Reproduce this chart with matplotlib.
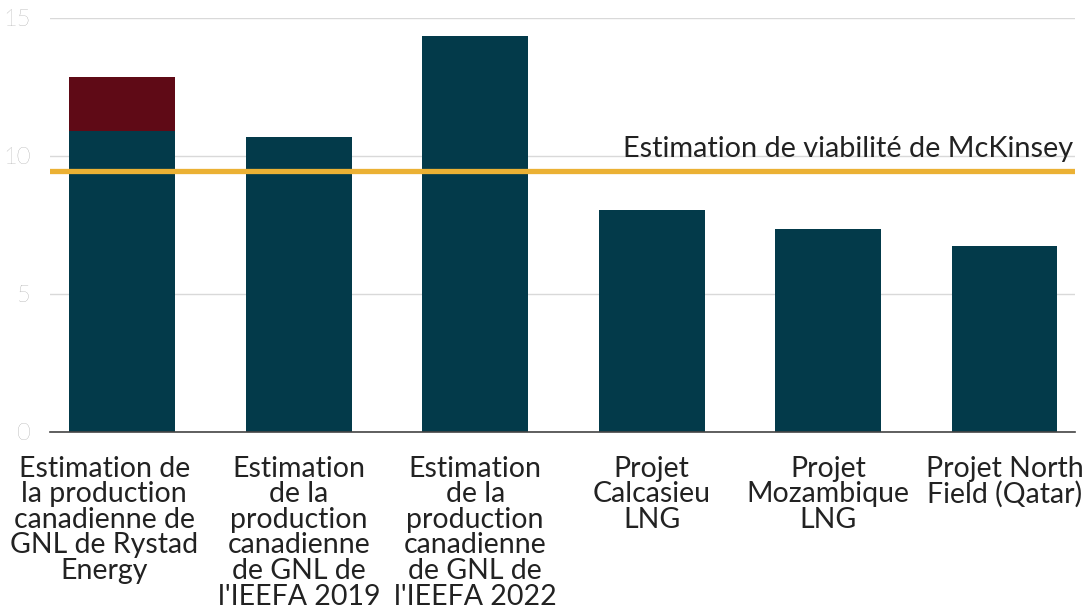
import matplotlib.pyplot as plt
import matplotlib.transforms as mtransforms

plt.rcParams["font.family"] = ["Lato", "DejaVu Sans"]

categories = [
    "Estimation de\nla production\ncanadienne de\nGNL de Rystad\nEnergy",
    "Estimation\nde la\nproduction\ncanadienne\nde GNL de\nl'IEEFA 2019",
    "Estimation\nde la\nproduction\ncanadienne\nde GNL de\nl'IEEFA 2022",
    "Projet\nCalcasieu\nLNG",
    "Projet\nMozambique\nLNG",
    "Projet North\nField (Qatar)",
]
base_values = [10.9, 10.7, 14.35, 8.05, 7.37, 6.75]
extra_values = [1.95, 0, 0, 0, 0, 0]
mckinsey = 9.45
mckinsey_label = "Estimation de viabilité de McKinsey"

BLUE = "#033a4a"
RED = "#5f0a16"
GOLD = "#ebb134"

fig = plt.figure(figsize=(10.87, 6.08), dpi=100)
ax = fig.add_axes([50 / 1087, 1 - 432 / 608, 1025 / 1087, 414 / 608])

x = list(range(len(categories)))
ax.bar(x, base_values, width=0.6, color=BLUE, zorder=2)
ax.bar(x, extra_values, bottom=base_values, width=0.6, color=RED, zorder=2)
ax.axhline(mckinsey, xmin=0, xmax=0.997, color=GOLD, linewidth=3.8, zorder=3)
ax.text(5.39, mckinsey + 0.33, mckinsey_label, ha="right", va="bottom",
        fontsize=20.8, color="#222222", zorder=4)

ax.set_xlim(-0.41, 5.4)
ax.set_ylim(0, 15)
ax.set_yticks([0, 5, 10, 15])
ax.grid(axis="y", color="#d9d9d9", linewidth=1, zorder=0)
ax.set_xticks(x)
ax.set_xticklabels(categories, fontsize=20.5, color="#222222", linespacing=0.98)
ax.tick_params(axis="x", length=0, pad=17)
ax.tick_params(axis="y", length=0, pad=14, labelsize=17, labelcolor="#8a8a8a")
for lab in ax.get_yticklabels():
    lab.set_fontweight("light")

# first label sits a bit left of its bar in the original
first = ax.get_xticklabels()[0]
first.set_transform(first.get_transform() + mtransforms.ScaledTranslation(-0.18, 0, fig.dpi_scale_trans))

for side in ["top", "right", "left"]:
    ax.spines[side].set_visible(False)
ax.spines["bottom"].set_color("#444444")
ax.spines["bottom"].set_linewidth(1.2)

fig.savefig("out.png", dpi=100)
